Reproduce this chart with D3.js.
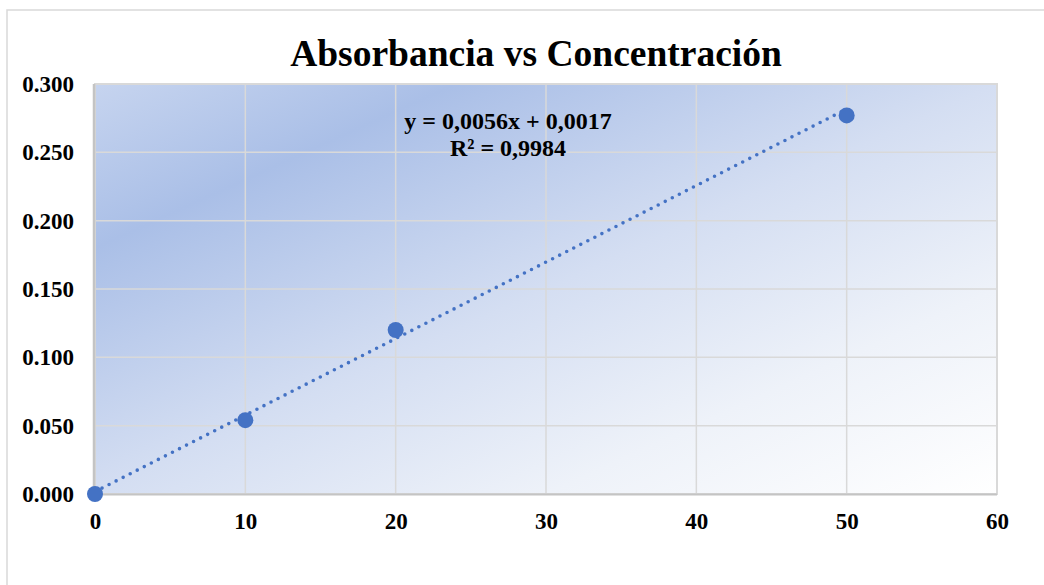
<!DOCTYPE html>
<html>
<head>
<meta charset="utf-8">
<script src="https://cdn.jsdelivr.net/npm/d3@7"></script>
<style>
  html, body { margin: 0; padding: 0; background: #ffffff; }
  svg { display: block; }
</style>
</head>
<body>
<svg id="chart" width="1044" height="585"></svg>
<script>
// ---- data ----
const concentrations = [0, 10, 20, 50];
const absorbances = [0.000, 0.054, 0.120, 0.277];
const xTicks = [0, 10, 20, 30, 40, 50, 60];
const yTicks = [0, 0.05, 0.10, 0.15, 0.20, 0.25, 0.30];
const trendSlope = 0.0056;
const trendIntercept = 0.0017;
const trendRange = [0, 50];
const titleText = "Absorbancia vs Concentración";
const equationLines = ["y = 0,0056x + 0,0017", "R² = 0,9984"];

// ---- layout ----
const plot = { left: 95, right: 997, top: 84, bottom: 494 };
const font = "'Liberation Serif', 'Times New Roman', serif";
const blue = "#4472C4";

const svg = d3.select("#chart");

// chart area border (extends beyond viewport on right/bottom)
svg.append("rect")
  .attr("x", 7).attr("y", 10)
  .attr("width", 1200).attr("height", 700)
  .attr("fill", "#ffffff")
  .attr("stroke", "#d9d9d9").attr("stroke-width", 1.5);

const x = d3.scaleLinear().domain([0, 60]).range([plot.left, plot.right]);
const y = d3.scaleLinear().domain([0, 0.3]).range([plot.bottom, plot.top]);

// gradient
const defs = svg.append("defs");
const grad = defs.append("linearGradient")
  .attr("id", "plotGrad")
  .attr("x1", 0).attr("y1", 0).attr("x2", 1).attr("y2", 1);
[[0, "#c6d4ef"], [0.2, "#aabfe7"], [0.5, "#d4def2"], [0.75, "#eef2f9"], [1, "#ffffff"]]
  .forEach(([o, c]) => grad.append("stop").attr("offset", o).attr("stop-color", c));

svg.append("rect")
  .attr("x", plot.left).attr("y", plot.top)
  .attr("width", plot.right - plot.left).attr("height", plot.bottom - plot.top)
  .attr("fill", "url(#plotGrad)")
  .attr("stroke", "#d9d9d9").attr("stroke-width", 2);

// gridlines
const grid = svg.append("g");
grid.selectAll("line.v").data(xTicks.filter(d => d > 0)).join("line")
  .attr("x1", d => x(d)).attr("x2", d => x(d))
  .attr("y1", plot.top).attr("y2", plot.bottom)
  .attr("stroke", "#d9d9d9").attr("stroke-width", 1.5);
grid.selectAll("line.h").data(yTicks.filter(d => d > 0)).join("line")
  .attr("x1", plot.left).attr("x2", plot.right)
  .attr("y1", d => y(d)).attr("y2", d => y(d))
  .attr("stroke", "#d9d9d9").attr("stroke-width", 1.5);

// left & bottom axis edges (slightly darker)
svg.append("line")
  .attr("x1", plot.left - 1).attr("x2", plot.left - 1)
  .attr("y1", plot.top).attr("y2", plot.bottom)
  .attr("stroke", "#c4c4c4").attr("stroke-width", 2.5);
svg.append("line")
  .attr("x1", plot.left).attr("x2", plot.right)
  .attr("y1", plot.bottom + 0.5).attr("y2", plot.bottom + 0.5)
  .attr("stroke", "#c4c4c4").attr("stroke-width", 2);

// axes via d3
const xAxis = d3.axisBottom(x).tickValues(xTicks).tickFormat(d3.format("d")).tickSize(0).tickPadding(19);
const yAxis = d3.axisLeft(y).tickValues(yTicks).tickFormat(d3.format(".3f")).tickSize(0).tickPadding(21);

const gx = svg.append("g").attr("transform", `translate(0,${plot.bottom})`).call(xAxis);
const gy = svg.append("g").attr("transform", `translate(${plot.left},0)`).call(yAxis);
[gx, gy].forEach(g => {
  g.select(".domain").remove();
  g.selectAll("text")
    .attr("font-family", font).attr("font-weight", "bold")
    .attr("font-size", 23).attr("fill", "#000000");
});

// trendline
const trendData = trendRange.map(v => [v, trendSlope * v + trendIntercept]);
svg.append("path")
  .datum(trendData)
  .attr("d", d3.line().x(d => x(d[0])).y(d => y(d[1])))
  .attr("fill", "none")
  .attr("stroke", blue).attr("stroke-width", 3.6)
  .attr("stroke-linecap", "round")
  .attr("stroke-dasharray", "0 7.9");

// points
svg.selectAll("circle.pt").data(concentrations.map((c, i) => [c, absorbances[i]])).join("circle")
  .attr("cx", d => x(d[0])).attr("cy", d => y(d[1]))
  .attr("r", 8).attr("fill", blue);

// equation
svg.selectAll("text.eq").data(equationLines).join("text")
  .attr("x", 508).attr("y", (d, i) => 129 + i * 27)
  .attr("text-anchor", "middle")
  .attr("font-family", font).attr("font-weight", "bold")
  .attr("font-size", 24).attr("fill", "#000000")
  .text(d => d);

// title
svg.append("text")
  .attr("x", 536).attr("y", 66)
  .attr("text-anchor", "middle")
  .attr("font-family", font).attr("font-weight", "bold")
  .attr("font-size", 37.5).attr("fill", "#000000")
  .text(titleText);
</script>
</body>
</html>
